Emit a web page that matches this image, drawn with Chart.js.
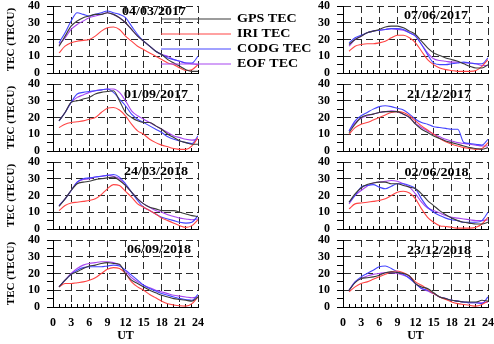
<!DOCTYPE html>
<html>
<head>
<meta charset="utf-8">
<script src="https://cdn.jsdelivr.net/npm/chart.js@4.4.1/dist/chart.umd.min.js"></script>
<style>
  html, body { margin: 0; padding: 0; background: #fff; }
  #wrap { position: relative; width: 494px; height: 344px; overflow: hidden; background: #fff; }
  #wrap canvas { position: absolute; left: 0; top: 0; }
</style>
</head>
<body>
<div id="wrap"></div>
<script>
// Universal time, hours 1..24
const hours = [1, 2, 3, 4, 5, 6, 7, 8, 9, 10, 11, 12, 13, 14, 15, 16, 17, 18, 19, 20, 21, 22, 23, 24];
const seriesNames = ['GPS TEC', 'IRI TEC', 'CODG TEC', 'EOF TEC'];
const xTicks = [0, 3, 6, 9, 12, 15, 18, 21, 24];
const yTicks = [0, 10, 20, 30, 40];

// 04/03/2017
const gps_04032017  = [16, 22, 28, 31, 33, 34, 35, 35, 36, 35, 33, 30, 26, 22, 19, 16, 13, 11, 8, 6, 4, 2, 1, 1];
const iri_04032017  = [12, 16, 18, 19, 19.5, 20, 22, 25, 27, 27.5, 26, 22, 19, 16, 14, 12, 10, 8, 6, 5, 3, 1.5, 2, 5];
const codg_04032017 = [18, 24, 31, 36, 35, 34, 35, 36, 37, 36, 35, 33, 28, 23, 19, 16, 13, 11, 9, 8, 7, 6, 6, 10];
const eof_04032017  = [17, 21, 26, 29, 31, 33, 34, 35, 36, 35, 33, 30, 26, 22, 19, 16, 13, 11, 10, 8, 7, 6, 5.5, 5];

// 07/06/2017
const gps_07062017  = [17, 20, 22, 24, 25, 26, 27.5, 28, 28, 27, 25, 23, 19, 15, 12, 10.5, 9, 8, 7, 5.5, 4, 3, 3, 5];
const iri_07062017  = [13, 16, 17, 17.5, 17.5, 18, 19, 21, 22.5, 22.5, 21, 18, 13, 8, 5, 3, 2, 1.5, 1, 1, 1, 1.5, 4, 8];
const codg_07062017 = [18, 21, 22.5, 24, 25, 25.5, 26, 26.5, 26.5, 26, 24, 22, 17, 11, 6, 5, 5, 5.5, 6, 6.5, 6, 5.5, 5.5, 9];
const eof_07062017  = [16, 20, 22, 24, 25, 25.5, 26, 26.5, 26, 25.5, 24, 22, 17, 12, 8.5, 7.5, 7, 6.5, 6.5, 6, 6, 5.5, 4.5, 4.5];

// 01/09/2017
const gps_01092017  = [18, 23, 29, 30, 31, 32, 34, 35, 35.5, 36, 30, 23, 20, 18, 17, 17, 15, 13, 10, 8, 6, 5, 4, 4];
const iri_01092017  = [14, 16, 17, 17.5, 18, 19, 20, 23, 25.5, 26, 24.5, 21, 16, 12, 10, 7, 5, 3.5, 2.5, 1.5, 1, 1, 3, 8];
const codg_01092017 = [18, 23, 29, 34, 35, 35.5, 36, 36.5, 37, 35, 31, 27, 22, 19, 17, 15, 13, 11, 8.5, 7, 6, 5, 4.5, 9];
const eof_01092017  = [18, 23, 29, 32, 33.5, 35, 36, 36.5, 37, 37, 35, 30, 24, 21, 19, 17, 15, 13, 11, 9, 8, 7, 6.5, 7];

// 21/12/2017
const gps_21122017  = [11, 16, 20, 21.5, 22, 23, 23.5, 23.5, 23.5, 22, 20, 16, 13, 11, 9, 7.5, 6, 5, 4, 3, 2, 1.5, 1, 2];
const iri_21122017  = [10, 14, 16, 17, 18.5, 20, 21.5, 23, 23.5, 23, 21, 18, 15, 12.5, 10, 7.5, 5.5, 4, 3, 2, 1.5, 1, 1.5, 5];
const codg_21122017 = [12, 18, 21, 23, 25, 26.5, 27, 26.5, 25.5, 24.5, 22, 19, 17, 16, 14.5, 14, 13.5, 13, 13, 5, 4.5, 4, 3.5, 7];
const eof_21122017  = [12, 17, 19.5, 21, 22, 23, 23.5, 24, 23.5, 22, 20, 16.5, 14, 12, 10, 8.5, 7, 6, 5, 4.5, 4, 3.5, 3, 3];

// 24/03/2018
const gps_24032018  = [13.5, 18, 23, 27, 28, 28.5, 29.5, 30, 30.5, 31, 29, 26, 22, 18, 15, 13, 12, 11, 11, 11, 10, 9, 8, 7.5];
const iri_24032018  = [11, 14, 15.5, 16, 16.5, 17, 18, 20.5, 24, 26.5, 26, 22.5, 19, 15, 13, 11, 9, 6.5, 5, 3.5, 2, 1, 2, 5.5];
const codg_24032018 = [14, 18, 23, 28, 30, 30.5, 31, 31.5, 32, 32.5, 31, 27, 22, 17, 13, 11, 9, 7, 6, 5, 4, 3.5, 4, 8];
const eof_24032018  = [14, 18, 23, 28, 29.5, 30, 31, 31.5, 32, 31.5, 30, 26, 22, 18, 15, 13, 11, 10, 8.5, 7.5, 6.5, 6, 5.5, 6];

// 02/06/2018
const gps_02062018  = [16, 21, 24.5, 26.5, 27.5, 28, 28, 27, 27, 26, 25, 24, 21, 17, 14, 11, 8.5, 6.5, 5, 4, 3.5, 3, 3, 4];
const iri_02062018  = [12, 15, 15.5, 16, 16.5, 17, 18, 20, 22, 22.5, 21.5, 18, 12, 7, 4, 2, 1.5, 1, 0.5, 0.5, 0.5, 1, 3, 7];
const codg_02062018 = [16, 20, 25, 26, 26.5, 25, 24, 25.5, 27, 27, 26, 24, 18, 13, 10, 8, 6.5, 5.5, 5, 4, 4, 4, 5, 10];
const eof_02062018  = [15, 20, 23, 25.5, 27.5, 28, 28.5, 29, 28.5, 27, 25, 21, 16, 12.5, 11, 9.5, 8, 7, 6.5, 6, 5.5, 5, 5, 5.5];

// 06/09/2018
const gps_06092018  = [12, 16, 19.5, 21, 23, 24.5, 25, 26, 26.5, 26, 25.5, 20, 16, 14, 12, 10, 8.5, 7, 6, 5, 4.5, 4, 3.5, 6];
const iri_06092018  = [12, 14, 14, 14.5, 15, 16, 17.5, 20, 22.5, 23.5, 23, 20, 15, 12, 10, 7.5, 5.5, 3.5, 2, 1.2, 0.7, 0.5, 2, 6];
const codg_06092018 = [12, 16, 19.5, 22, 23.5, 24, 24, 24, 24.5, 25, 24.5, 22, 19, 16, 13, 11, 9.5, 8, 7, 6, 5, 4.5, 4, 7.5];
const eof_06092018  = [12, 16, 20, 23, 25, 26, 26.5, 27, 27, 26.5, 25, 21.5, 17.5, 15, 13, 11.5, 10, 9, 8, 7, 6.5, 6, 5.5, 6];

// 23/12/2018
const gps_23122018  = [10, 14.5, 17, 17.5, 18, 19, 20.5, 21, 20.5, 20, 18.5, 14, 12, 11, 8.5, 6, 5, 4, 3.5, 3, 3, 3, 4, 3.5];
const iri_23122018  = [9, 12, 14, 15, 16.5, 18, 19.5, 21, 21.5, 20.5, 18.5, 15, 13, 10.5, 8, 6, 4.5, 3, 2, 1.5, 1, 0.5, 1.5, 3.5];
const codg_23122018 = [10, 15, 18, 20, 22, 24, 24.5, 23, 21, 19.5, 17, 14, 11, 10, 8, 6, 5, 4, 3.5, 3, 2.5, 2.5, 2, 6];
const eof_23122018  = [10, 15, 17, 18.5, 19.5, 20, 20.5, 20.5, 20, 19, 17.5, 14, 11, 9.5, 8, 6, 5, 4, 3.5, 3, 2.5, 2.5, 2.5, 3];

// Panel grid: two columns, four rows
const panels = [
  { date: '04/03/2017', col: 0, row: 0, series: [gps_04032017, iri_04032017, codg_04032017, eof_04032017], labelX: 154, labelDy: 6, legend: true },
  { date: '07/06/2017', col: 1, row: 0, series: [gps_07062017, iri_07062017, codg_07062017, eof_07062017], labelX: 436, labelDy: 10 },
  { date: '01/09/2017', col: 0, row: 1, series: [gps_01092017, iri_01092017, codg_01092017, eof_01092017], labelX: 156, labelDy: 10.5 },
  { date: '21/12/2017', col: 1, row: 1, series: [gps_21122017, iri_21122017, codg_21122017, eof_21122017], labelX: 439, labelDy: 11 },
  { date: '24/03/2018', col: 0, row: 2, series: [gps_24032018, iri_24032018, codg_24032018, eof_24032018], labelX: 156, labelDy: 10 },
  { date: '02/06/2018', col: 1, row: 2, series: [gps_02062018, iri_02062018, codg_02062018, eof_02062018], labelX: 436.5, labelDy: 11 },
  { date: '06/09/2018', col: 0, row: 3, series: [gps_06092018, iri_06092018, codg_06092018, eof_06092018], labelX: 159, labelDy: 10 },
  { date: '23/12/2018', col: 1, row: 3, series: [gps_23122018, iri_23122018, codg_23122018, eof_23122018], labelX: 439, labelDy: 10.5 }
];

const W = 494, H = 344;
const colLeft = [53, 343];
const rowTop = [6, 84, 162, 240];
const plotW = 145, plotH = 67;
const yAxisW = 53;
const lineColors = ['#3a3a3a', '#ff4444', '#4444ff', '#a846f0'];
const serif = '"Liberation Serif", "Times New Roman", serif';

Chart.defaults.font.family = serif;
Chart.defaults.font.weight = 'bold';
Chart.defaults.font.size = 12;
Chart.defaults.color = '#000';

// Date caption inside each panel, and the series key in the first one
const captionPlugin = {
  id: 'caption',
  afterDraw(chart, args, opts) {
    const ctx = chart.ctx;
    const area = chart.chartArea;
    ctx.save();
    ctx.font = 'bold 12px ' + serif;
    ctx.fillStyle = '#000';
    ctx.textBaseline = 'middle';
    ctx.textAlign = 'center';
    ctx.translate(opts.x, area.top + opts.dy);
    ctx.scale(1.17, 1);
    ctx.fillText(opts.text, 0, 0);
    ctx.restore();

    if (opts.legend) {
      chart.data.datasets.forEach((ds, i) => {
        const y = 19 + i * 15;
        ctx.save();
        ctx.strokeStyle = ds.borderColor;
        ctx.lineWidth = 1.2;
        ctx.beginPath();
        ctx.moveTo(161, y);
        ctx.lineTo(231, y);
        ctx.stroke();
        ctx.font = 'bold 12px ' + serif;
        ctx.fillStyle = '#000';
        ctx.textBaseline = 'middle';
        ctx.textAlign = 'left';
        ctx.translate(237, y);
        ctx.scale(1.17, 1);
        ctx.fillText(ds.label, 0, 0);
        ctx.restore();
      });
    }
  }
};

const wrap = document.getElementById('wrap');

panels.forEach(p => {
  const canvas = document.createElement('canvas');
  canvas.width = W;
  canvas.height = H;
  canvas.style.width = W + 'px';
  canvas.style.height = H + 'px';
  wrap.appendChild(canvas);

  const isBottom = p.row === 3;
  const isLeft = p.col === 0;
  const xAxisH = isBottom ? 37 : 4;
  const left = colLeft[p.col];
  const top = rowTop[p.row];

  const datasets = seriesNames.map((name, i) => ({
    label: name,
    data: hours.map((h, k) => ({ x: h, y: p.series[i][k] })),
    borderColor: lineColors[i],
    backgroundColor: lineColors[i],
    borderWidth: 1.1,
    pointRadius: 0,
    fill: false,
    cubicInterpolationMode: 'monotone'
  }));

  new Chart(canvas, {
    type: 'line',
    data: { datasets },
    options: {
      responsive: false,
      animation: false,
      events: [],
      devicePixelRatio: 1,
      layout: {
        padding: {
          left: left - yAxisW,
          top: top,
          right: W - (left + plotW),
          bottom: H - (top + plotH) - xAxisH
        }
      },
      plugins: {
        legend: { display: false },
        tooltip: { enabled: false },
        caption: { text: p.date, x: p.labelX, dy: p.labelDy, legend: !!p.legend }
      },
      scales: {
        x: {
          type: 'linear',
          position: 'bottom',
          min: 0,
          max: 24,
          afterBuildTicks(scale) {
            scale.ticks = [0].concat(hours).map(v => ({ value: v }));
          },
          afterFit(scale) {
            scale.height = xAxisH;
            scale.paddingLeft = 0;
            scale.paddingRight = 0;
          },
          ticks: {
            display: isBottom,
            autoSkip: false,
            maxRotation: 0,
            padding: 11.5,
            font: { size: 12, weight: 'bold' },
            callback: v => (xTicks.includes(v) ? String(v) : '')
          },
          grid: {
            color: c => (c.tick && c.tick.value % 3 === 0 && c.tick.value !== 0 ? '#2a2a2a' : 'rgba(0,0,0,0)'),
            lineWidth: 1,
            tickLength: -3,
            tickColor: '#000',
            tickWidth: 1
          },
          border: { display: true, color: '#000', width: 1, dash: [7, 4] },
          title: {
            display: isBottom,
            text: 'UT',
            padding: { top: 0, bottom: 1 },
            font: { size: 12, weight: 'bold' }
          }
        },
        y: {
          type: 'linear',
          position: 'left',
          min: 0,
          max: 40,
          afterBuildTicks(scale) {
            const t = [];
            for (let v = 0; v <= 40; v += 5) t.push({ value: v });
            scale.ticks = t;
          },
          afterFit(scale) {
            scale.width = yAxisW;
            scale.paddingTop = 0;
            scale.paddingBottom = 0;
          },
          ticks: {
            autoSkip: false,
            padding: 7,
            font: { size: 12, weight: 'bold' },
            callback: v => (yTicks.includes(v) ? String(v) : '')
          },
          grid: {
            color: c => (c.tick && c.tick.value % 10 === 0 && c.tick.value !== 0 ? '#2a2a2a' : 'rgba(0,0,0,0)'),
            lineWidth: 1,
            tickLength: 6,
            tickColor: '#000',
            tickWidth: 1
          },
          border: { display: true, color: '#000', width: 1, dash: [7, 4] },
          title: {
            display: isLeft,
            text: 'TEC (TECU)',
            padding: { top: 5, bottom: 0 },
            font: { size: 11, weight: 'bold' }
          }
        }
      }
    },
    plugins: [captionPlugin]
  });
});
</script>
</body>
</html>
